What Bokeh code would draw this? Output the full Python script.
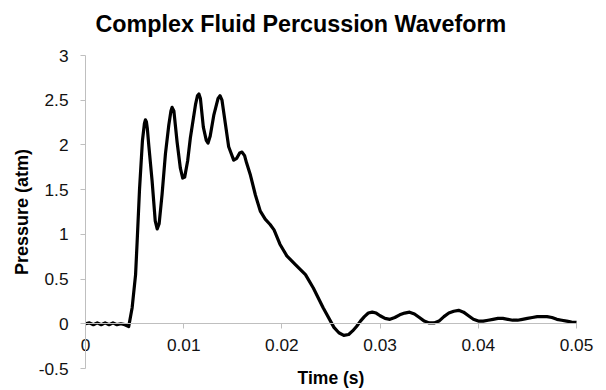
from bokeh.plotting import figure
from bokeh.models import Range1d, FixedTicker, ColumnDataSource, Label
from bokeh.embed import file_html
from bokeh.resources import INLINE

# ---- data ----
time_s = [0.0, 0.0004, 0.0008, 0.0012, 0.0016, 0.002, 0.0024, 0.0028, 0.0032, 0.0036,
          0.004, 0.0044, 0.00475, 0.0051, 0.00526, 0.0055, 0.0058, 0.0060, 0.0061, 0.0062,
          0.0063, 0.00644, 0.00678, 0.0071, 0.0073, 0.0075, 0.0078, 0.00814, 0.00848, 0.0087,
          0.00882, 0.0090, 0.00933, 0.00966, 0.0099, 0.0101, 0.0104, 0.01068, 0.0112, 0.0114,
          0.01155, 0.0117, 0.0120, 0.0123, 0.01248, 0.0127, 0.01306, 0.0135, 0.0137, 0.0139,
          0.01424, 0.01458, 0.01509, 0.0154, 0.0157, 0.01594, 0.0162, 0.0164, 0.0168, 0.0173,
          0.0178, 0.0183, 0.0188, 0.0192, 0.0198, 0.0205, 0.0214, 0.0224, 0.0232, 0.0242,
          0.0253, 0.0258, 0.0263, 0.0268, 0.0272, 0.0276, 0.0280, 0.0284, 0.0288, 0.0292,
          0.0296, 0.0300, 0.0305, 0.0310, 0.0315, 0.0320, 0.0325, 0.0330, 0.0335, 0.0340,
          0.0345, 0.0350, 0.0355, 0.0360, 0.0365, 0.0370, 0.0375, 0.0380, 0.0385, 0.0390,
          0.0395, 0.0400, 0.0405, 0.0410, 0.0415, 0.0420, 0.0425, 0.0430, 0.0435, 0.0440,
          0.0445, 0.0450, 0.0455, 0.0460, 0.0465, 0.0470, 0.0475, 0.0480, 0.0485, 0.0490,
          0.0495, 0.0500]
pressure_atm = [0.0, 0.01, -0.01, 0.01, -0.01, 0.01, -0.01, 0.01, -0.01, 0.0,
                -0.01, -0.03, 0.18, 0.55, 0.92, 1.5, 2.05, 2.24, 2.28, 2.26,
                2.18, 2.0, 1.6, 1.15, 1.06, 1.12, 1.45, 1.9, 2.22, 2.38,
                2.42, 2.38, 2.03, 1.74, 1.63, 1.64, 1.82, 2.08, 2.45, 2.55,
                2.57, 2.52, 2.2, 2.05, 2.02, 2.1, 2.33, 2.52, 2.55, 2.5,
                2.24, 1.98, 1.83, 1.85, 1.91, 1.92, 1.88, 1.8, 1.66, 1.44,
                1.26, 1.17, 1.11, 1.05, 0.89, 0.76, 0.66, 0.55, 0.40, 0.18,
                -0.04, -0.10, -0.13, -0.12, -0.08, -0.03, 0.03, 0.08, 0.12, 0.13,
                0.12, 0.09, 0.06, 0.05, 0.07, 0.10, 0.12, 0.13, 0.11, 0.07,
                0.03, 0.01, 0.01, 0.03, 0.08, 0.12, 0.14, 0.15, 0.13, 0.09,
                0.05, 0.03, 0.03, 0.04, 0.05, 0.06, 0.06, 0.05, 0.04, 0.04,
                0.05, 0.06, 0.07, 0.08, 0.08, 0.08, 0.07, 0.05, 0.04, 0.03,
                0.02, 0.015]

x_ticks = [0, 0.01, 0.02, 0.03, 0.04, 0.05]
x_tick_labels = ["0", "0.01", "0.02", "0.03", "0.04", "0.05"]
y_ticks = [-0.5, 0, 0.5, 1, 1.5, 2, 2.5, 3]
y_tick_labels = ["-0.5", "0", "0.5", "1", "1.5", "2", "2.5", "3"]
x_min, x_max = 0.0, 0.05
y_min, y_max = -0.5, 3.0

TITLE = "Complex Fluid Percussion Waveform"
FONT = "Liberation Sans"
AXIS_COLOR = "#bfbfbf"

# Layout (pixels): the plotting area of the reference spans these positions.
W, H = 606, 390
PX_LEFT, PX_RIGHT = 85, 576     # x_min .. x_max
PX_TOP, PX_BOTTOM = 55, 368     # y_max .. y_min
xs = (x_max - x_min) / (PX_RIGHT - PX_LEFT)
ys = (y_max - y_min) / (PX_BOTTOM - PX_TOP)
x_range = Range1d(x_min - PX_LEFT * xs, x_max + (W - PX_RIGHT) * xs)
y_range = Range1d(y_min - (H - PX_BOTTOM) * ys, y_max + PX_TOP * ys)

p = figure(width=W, height=H, output_backend="svg", toolbar_location=None,
           x_range=x_range, y_range=y_range,
           min_border_left=0, min_border_right=0, min_border_top=0, min_border_bottom=0)

p.outline_line_color = None
p.grid.visible = False
p.background_fill_color = "white"
p.border_fill_color = "white"

src = ColumnDataSource(dict(t=time_s, pr=pressure_atm))
p.line("t", "pr", source=src, line_color="black", line_width=3.2, line_join="round")

# x axis crossing at y = 0
xa = p.xaxis[0]
xa.fixed_location = 0
xa.bounds = (x_min, x_max)
xa.ticker = FixedTicker(ticks=x_ticks)
xa.major_label_overrides = {t: l for t, l in zip(x_ticks, x_tick_labels)}
xa.minor_tick_line_color = None
xa.major_tick_in = 0
xa.major_tick_out = 5
xa.axis_line_color = AXIS_COLOR
xa.major_tick_line_color = AXIS_COLOR
xa.major_label_text_font = FONT
xa.major_label_text_font_size = "17.3px"
xa.major_label_text_color = "#111111"
xa.major_label_standoff = 10
xa.axis_label = "Time (s)"
xa.axis_label_text_font = FONT
xa.axis_label_text_font_size = "17.5px"
xa.axis_label_text_font_style = "bold"
xa.axis_label_text_color = "#000000"
xa.axis_label_standoff = 14

# y axis at x = 0
ya = p.yaxis[0]
ya.fixed_location = 0
ya.bounds = (y_min, y_max)
ya.ticker = FixedTicker(ticks=y_ticks)
ya.major_label_overrides = {t: l for t, l in zip(y_ticks, y_tick_labels)}
ya.minor_tick_line_color = None
ya.major_tick_in = 0
ya.major_tick_out = 5
ya.axis_line_color = AXIS_COLOR
ya.major_tick_line_color = AXIS_COLOR
ya.major_label_text_font = FONT
ya.major_label_text_font_size = "17.3px"
ya.major_label_text_color = "#111111"
ya.major_label_standoff = 12
ya.axis_label = "Pressure (atm)"
ya.axis_label_text_font = FONT
ya.axis_label_text_font_size = "18px"
ya.axis_label_text_font_style = "bold"
ya.axis_label_text_color = "#000000"
ya.axis_label_standoff = 4

# title (screen units measured from the bottom of the plotting area)
p.add_layout(Label(x=95, y=H - 23, x_units="screen", y_units="screen", text=TITLE,
                   text_align="left", text_baseline="alphabetic", text_font=FONT,
                   text_font_size="23.3px", text_font_style="bold", text_color="#000000"))

open("out.html", "w").write(file_html(p, INLINE))
